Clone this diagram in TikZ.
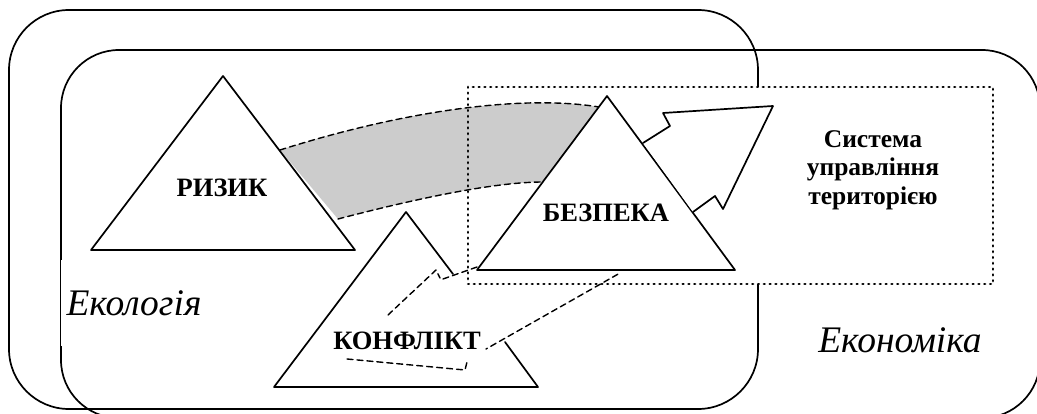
\documentclass[tikz,border=0pt]{standalone}
\usepackage{fontspec}
\setmainfont{Liberation Serif}
\begin{document}
\begin{tikzpicture}[x=1pt, y=-1pt, line join=round, line cap=round, line width=1.7pt]
\tikzset{dashln/.style={dash pattern=on 6pt off 4pt, line width=1.4pt},
	dotbox/.style={line width=2.8pt, line cap=round, dash pattern=on 0.6pt off 5.2pt},
	tri/.style={draw, fill=white},
	lbl/.style={font=\bfseries\fontsize{26.5}{30}\selectfont, inner sep=0pt},
	area/.style={font=\itshape\fontsize{37.5}{40}\selectfont}}
\useasboundingbox (0,0) rectangle (1037,414);
\clip (0,0) rectangle (1037,414);
% Екологія / Економіка
\draw[rounded corners=60pt] (9,10) rectangle (758,409);
\draw[rounded corners=58pt] (61,50) rectangle (1040,418);
\fill[white] (468,87) rectangle (993,284);
% смуга ризик -> безпека
\fill[gray!40] (280,150) .. controls (400,112) and (520,94) .. (599,107) -- (543,182)
	.. controls (500,182) and (430,195) .. (338,219) -- cycle;
\draw[dashln] (280,150) .. controls (400,112) and (520,94) .. (599,107);
\draw[dashln] (338,219) .. controls (430,195) and (500,182) .. (543,182);
\draw[dotbox] (468,87) rectangle (993,284);
% трикутники
\draw[tri] (223,76) -- (355,250) -- (91,250) -- cycle;
\draw[tri] (607,96) -- (735,270) -- (477,270) -- cycle;
\draw (453,274) -- (406,212) -- (274,387) -- (538,387) -- (505,342);
\draw[fill=white] (643,143) -- (670,126) -- (663,113) -- (773,106) -- (723,209) -- (715,196) -- (693,212);
% конфлікт -> безпека
\draw[dashln] (388,315) -- (436,270) -- (440,278);
\draw[dashln] (443,279) -- (477,267);
\draw[dashln] (347,359) -- (465,370) -- (467,362);
\draw[dashln, dash phase=4.5pt] (486,349) -- (620,273);
% підписи
\node[lbl] (risk) at (222,188) {РИЗИК};
\node[lbl] (bezpeka) at (606,213) {БЕЗПЕКА};
\node[lbl] (konflikt) at (407,341) {КОНФЛІКТ};
\node[align=center, font=\bfseries\fontsize{25.5}{28.5}\selectfont, inner sep=0pt] (system) at (873,170)
	{Система\\управління\\територією};
\node[area, fill=white, minimum height=85pt, inner xsep=6pt] (ecology) at (134,303) {Екологія};
\node[area] (economy) at (900,340) {Економіка};
\end{tikzpicture}
\end{document}
